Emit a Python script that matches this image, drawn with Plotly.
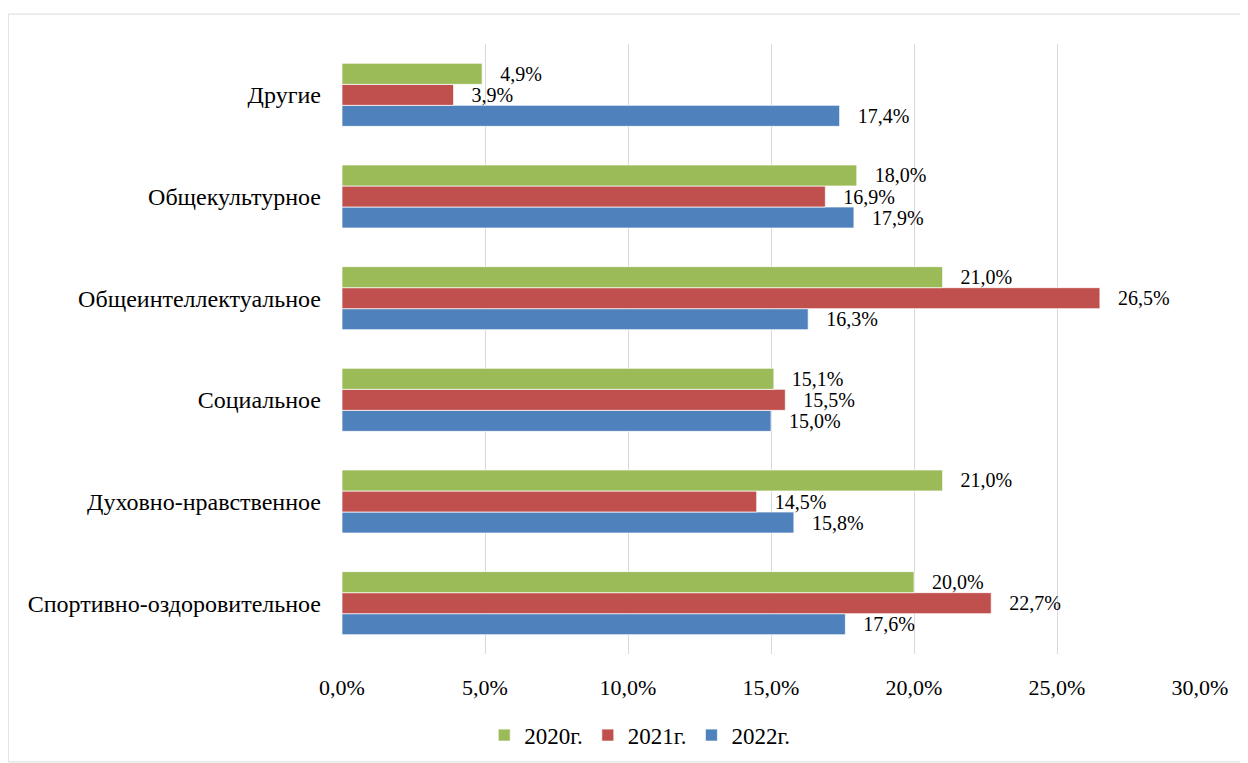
import plotly.graph_objects as go

CATEGORIES = [
    "Спортивно-оздоровительное",
    "Духовно-нравственное",
    "Социальное",
    "Общеинтеллектуальное",
    "Общекультурное",
    "Другие",
]

Y2020 = [20.0, 21.0, 15.1, 21.0, 18.0, 4.9]
Y2021 = [22.7, 14.5, 15.5, 26.5, 16.9, 3.9]
Y2022 = [17.6, 15.8, 15.0, 16.3, 17.9, 17.4]

X_TICKS = [0, 5, 10, 15, 20, 25, 30]

FONT = "Liberation Serif, Times New Roman, serif"
GRID = "#D9D9D9"

SERIES = [
    ("2022г.", Y2022, "#4F81BD"),
    ("2021г.", Y2021, "#C0504D"),
    ("2020г.", Y2020, "#9BBB59"),
]

fig = go.Figure()
for name, vals, color in SERIES:
    fig.add_trace(go.Bar(
        name=name,
        y=CATEGORIES,
        x=[v / 100 for v in vals],
        orientation="h",
        marker=dict(color=color, line=dict(color="rgba(255,255,255,0.7)", width=1)),
        text=[f"{v:.1f}%".replace(".", ",") for v in vals],
        texttemplate="\u00a0\u00a0\u00a0%{text}",
        textposition="outside",
        constraintext="none",
        textfont=dict(family=FONT, size=20, color="#000000"),
        cliponaxis=False,
    ))

fig.update_layout(
    width=1248,
    height=763,
    barmode="group",
    bargap=0.38,
    bargroupgap=0,
    separators=", ",
    paper_bgcolor="#FFFFFF",
    plot_bgcolor="#FFFFFF",
    font=dict(family=FONT, size=21, color="#000000"),
    margin=dict(l=334, r=56, t=36, b=117),
    xaxis=dict(
        range=[0, 0.30],
        tickvals=[t / 100 for t in X_TICKS],
        tickformat=".1%",
        showgrid=True,
        gridcolor=GRID,
        gridwidth=1,
        zeroline=False,
        showline=False,
        ticks="",
        ticklabelstandoff=18,
        tickfont=dict(family=FONT, size=22),
    ),
    yaxis=dict(
        showgrid=False,
        zeroline=False,
        showline=False,
        ticks="",
        ticklabelstandoff=20,
        tickfont=dict(family=FONT, size=24),
    ),
    legend=dict(
        orientation="h",
        traceorder="reversed",
        x=0.347,
        xanchor="center",
        y=-0.133,
        yanchor="middle",
        itemwidth=30,
        font=dict(family=FONT, size=23),
    ),
    showlegend=True,
    shapes=[dict(
        type="rect", xref="paper", yref="paper",
        x0=-0.389, x1=1.0548, y0=-0.177, y1=1.049,
        line=dict(color="#D9D9D9", width=1),
        layer="below",
    )],
)

fig.write_html("out.html")
